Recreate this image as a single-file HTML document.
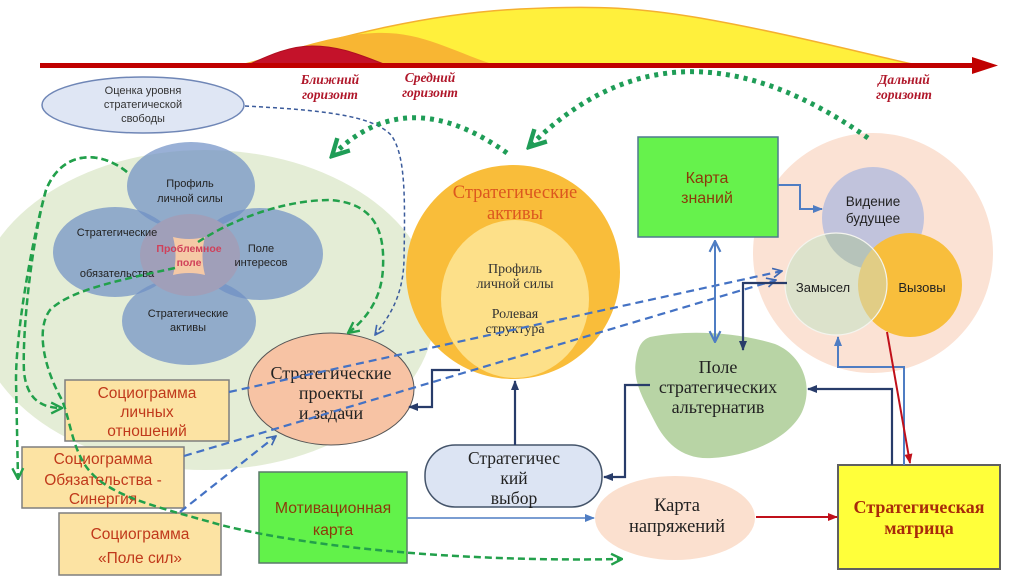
<!DOCTYPE html>
<html>
<head>
<meta charset="utf-8">
<style>
  html,body{margin:0;padding:0;background:#fff;}
  svg{display:block;}
  .sans{font-family:"Liberation Sans","DejaVu Sans",sans-serif;}
  .serif{font-family:"Liberation Serif","DejaVu Serif",serif;}
</style>
</head>
<body>
<svg width="1024" height="579" viewBox="0 0 1024 579" xmlns="http://www.w3.org/2000/svg">
  <defs>
    <marker id="mNavy" viewBox="0 0 10 10" refX="9" refY="5" markerWidth="10" markerHeight="10" orient="auto-start-reverse" markerUnits="userSpaceOnUse">
      <path d="M0,1 L10,5 L0,9 z" fill="#283c6a"/>
    </marker>
    <marker id="mBlue" viewBox="0 0 10 10" refX="9" refY="5" markerWidth="10" markerHeight="10" orient="auto-start-reverse" markerUnits="userSpaceOnUse">
      <path d="M0,1 L10,5 L0,9 z" fill="#4f7dc3"/>
    </marker>
    <marker id="mBlueV" viewBox="0 0 12 12" refX="11" refY="6" markerWidth="13" markerHeight="13" orient="auto-start-reverse" markerUnits="userSpaceOnUse">
      <path d="M1,1 L11,6 L1,11" fill="none" stroke="#4f7dc3" stroke-width="2"/>
    </marker>
    <marker id="mBDash" viewBox="0 0 12 12" refX="11" refY="6" markerWidth="11" markerHeight="11" orient="auto" markerUnits="userSpaceOnUse">
      <path d="M1,1 L11,6 L1,11" fill="none" stroke="#3f68b0" stroke-width="1.8"/>
    </marker>
    <marker id="mRed" viewBox="0 0 10 10" refX="9" refY="5" markerWidth="10" markerHeight="10" orient="auto" markerUnits="userSpaceOnUse">
      <path d="M0,1 L10,5 L0,9 z" fill="#c0101a"/>
    </marker>
    <marker id="mG" viewBox="0 0 12 12" refX="11" refY="6" markerWidth="13" markerHeight="13" orient="auto" markerUnits="userSpaceOnUse">
      <path d="M1,1 L11,6 L1,11" fill="none" stroke="#22a04b" stroke-width="2.2"/>
    </marker>
    <marker id="mGBig" viewBox="0 0 20 20" refX="17" refY="10" markerWidth="22" markerHeight="22" orient="auto" markerUnits="userSpaceOnUse">
      <path d="M2,2 L17,10 L2,18" fill="none" stroke="#1f9d57" stroke-width="4"/>
    </marker>
    <clipPath id="cZam"><circle cx="836" cy="284" r="51"/></clipPath>
  </defs>

  <!-- ===== Top horizon ===== -->
  <path d="M245,64 C300,50 400,15 520,9 C600,5 640,8 700,18 C780,32 850,50 912,64 Z" fill="#fff03c" stroke="#f4b030" stroke-width="1.5"/>
  <path d="M250,64 C290,50 330,35 375,33 C420,31 450,50 492,64 Z" fill="#f8b633"/>
  <path d="M250,64 C270,55 290,46 312,46 C340,46 360,55 384,64 Z" fill="#c4122a" stroke="#b00f20" stroke-width="1"/>
  <line x1="40" y1="65.5" x2="976" y2="65.5" stroke="#c00000" stroke-width="5"/>
  <polygon points="972,57 998,65.5 972,74" fill="#c00000"/>
  <g class="serif" font-style="italic" font-weight="bold" font-size="13.5" fill="#b0172a" text-anchor="middle">
    <text x="330" y="84">Ближний</text>
    <text x="330" y="99">горизонт</text>
    <text x="430" y="82">Средний</text>
    <text x="430" y="97">горизонт</text>
    <text x="904" y="84">Дальний</text>
    <text x="904" y="99">горизонт</text>
  </g>

  <!-- Оценка oval -->
  <ellipse cx="143" cy="105" rx="101" ry="28" fill="#dfe6f4" stroke="#6f86b6" stroke-width="1.5"/>
  <g class="sans" font-size="11" fill="#333" text-anchor="middle">
    <text x="143" y="94">Оценка уровня</text>
    <text x="143" y="108">стратегической</text>
    <text x="143" y="122">свободы</text>
  </g>

  <!-- ===== Left cluster ===== -->
  <ellipse cx="205" cy="310" rx="230" ry="160" fill="#e4edd6"/>
  <g fill="#6d8fc4" fill-opacity="0.7">
    <ellipse cx="191" cy="186" rx="64" ry="44"/>
    <ellipse cx="115" cy="252" rx="62" ry="45"/>
    <ellipse cx="260" cy="254" rx="63" ry="46"/>
    <ellipse cx="189" cy="321" rx="67" ry="44"/>
  </g>
  <ellipse cx="190" cy="255" rx="50" ry="41" fill="#a09fb9"/>
  <path d="M173,237 Q189,241 205,237 Q200,256 205,275 Q189,271 173,275 Q178,256 173,237 Z" fill="#f5c9a6"/>
  <g class="sans" font-size="11" fill="#222" text-anchor="middle">
    <text x="190" y="187">Профиль</text>
    <text x="190" y="202">личной силы</text>
    <text x="117" y="236">Стратегические</text>
    <text x="117" y="277">обязательства</text>
    <text x="261" y="252">Поле</text>
    <text x="261" y="266">интересов</text>
    <text x="188" y="317">Стратегические</text>
    <text x="188" y="331">активы</text>
  </g>
  <g class="sans" font-size="10.5" font-weight="bold" fill="#d0405a" text-anchor="middle">
    <text x="189" y="252">Проблемное</text>
    <text x="189" y="266">поле</text>
  </g>

  <!-- Стратегические проекты -->
  <ellipse cx="331" cy="389" rx="83" ry="56" fill="#f7c3a4" stroke="#555" stroke-width="1"/>
  <g class="serif" font-size="18" fill="#222" text-anchor="middle">
    <text x="331" y="379">Стратегические</text>
    <text x="331" y="399">проекты</text>
    <text x="331" y="419">и задачи</text>
  </g>

  <!-- Социограммы -->
  <g fill="#fce3a3" stroke="#7f7f7f" stroke-width="1.5">
    <rect x="65" y="380" width="164" height="61"/>
    <rect x="22" y="447" width="162" height="61"/>
    <rect x="59" y="513" width="162" height="62"/>
  </g>
  <g class="sans" font-size="15.5" fill="#c0391b" text-anchor="middle">
    <text x="147" y="398">Социограмма</text>
    <text x="147" y="417">личных</text>
    <text x="147" y="436">отношений</text>
    <text x="103" y="464">Социограмма</text>
    <text x="103" y="485">Обязательства -</text>
    <text x="103" y="504">Синергия</text>
    <text x="140" y="539">Социограмма</text>
    <text x="140" y="563">«Поле сил»</text>
  </g>

  <!-- Мотивационная карта -->
  <rect x="259" y="472" width="148" height="91" fill="#62f24a" stroke="#5a7a6a" stroke-width="1.5"/>
  <g class="sans" font-size="15.8" fill="#8b3a0a" text-anchor="middle">
    <text x="333" y="513">Мотивационная</text>
    <text x="333" y="535">карта</text>
  </g>

  <!-- ===== Center: Стратегические активы ===== -->
  <circle cx="513" cy="272" r="107" fill="#f9bd3a"/>
  <ellipse cx="515" cy="299" rx="74" ry="79" fill="#fde089"/>
  <g class="serif" font-size="18.5" fill="#dc571f" text-anchor="middle">
    <text x="515" y="198">Стратегические</text>
    <text x="515" y="219">активы</text>
  </g>
  <g class="serif" font-size="14" fill="#333" text-anchor="middle">
    <text x="515" y="273">Профиль</text>
    <text x="515" y="288">личной силы</text>
    <text x="515" y="318">Ролевая</text>
    <text x="515" y="333">структура</text>
  </g>

  <!-- Стратегический выбор -->
  <rect x="425" y="445" width="177" height="62" rx="30" ry="30" fill="#dce4f3" stroke="#44546a" stroke-width="1.5"/>
  <g class="serif" font-size="17.5" fill="#222" text-anchor="middle">
    <text x="514" y="464">Стратегичес</text>
    <text x="514" y="484">кий</text>
    <text x="514" y="504">выбор</text>
  </g>

  <!-- ===== Right ===== -->
  <circle cx="873" cy="253" r="120" fill="#fbe2d4"/>
  <circle cx="873" cy="218" r="51" fill="#c1c3dc"/>
  <circle cx="910" cy="285" r="52" fill="#f8be3c"/>
  <circle cx="836" cy="284" r="51" fill="#dce2cb"/>
  <circle cx="873" cy="218" r="51" fill="#b6c3ba" clip-path="url(#cZam)"/>
  <circle cx="910" cy="285" r="52" fill="#e1cd85" clip-path="url(#cZam)"/>
  <circle cx="836" cy="284" r="51" fill="none" stroke="#f4f4ee" stroke-width="1.2"/>
  <g class="sans" fill="#222" text-anchor="middle">
    <text x="873" y="206" font-size="13.5">Видение</text>
    <text x="873" y="223" font-size="13.5">будущее</text>
    <text x="823" y="292" font-size="13">Замысел</text>
    <text x="922" y="292" font-size="13">Вызовы</text>
  </g>

  <!-- Карта знаний -->
  <rect x="638" y="137" width="140" height="100" fill="#66f24c" stroke="#4f7a8f" stroke-width="1.5"/>
  <g class="sans" font-size="16" fill="#8b3a0a" text-anchor="middle">
    <text x="707" y="183">Карта</text>
    <text x="707" y="203">знаний</text>
  </g>

  <!-- Поле стратегических альтернатив -->
  <path d="M650,337 C690,329 740,333 775,344 C802,355 814,385 802,412 C790,437 752,456 712,458 C682,460 665,442 655,422 C645,402 632,382 636,360 C638,346 642,340 650,337 Z" fill="#b8d4a5"/>
  <g class="serif" font-size="18" fill="#222" text-anchor="middle">
    <text x="718" y="373">Поле</text>
    <text x="718" y="393">стратегических</text>
    <text x="718" y="413">альтернатив</text>
  </g>

  <!-- Карта напряжений -->
  <ellipse cx="675" cy="518" rx="80" ry="42" fill="#fbe0cf"/>
  <g class="serif" font-size="18.5" fill="#222" text-anchor="middle">
    <text x="677" y="511">Карта</text>
    <text x="677" y="532">напряжений</text>
  </g>

  <!-- Стратегическая матрица -->
  <rect x="838" y="465" width="162" height="104" fill="#ffff3a" stroke="#606060" stroke-width="2"/>
  <g class="serif" font-size="18" font-weight="bold" fill="#a82a0a" text-anchor="middle">
    <text x="919" y="513">Стратегическая</text>
    <text x="919" y="534">матрица</text>
  </g>

  <!-- ===== Connectors ===== -->
  <!-- blue dashed long -->
  <g fill="none" stroke="#4472c4" stroke-width="2.2" stroke-dasharray="8,5">
    <path d="M229,392 L782,271" marker-end="url(#mBDash)"/>
    <path d="M184,456 L776,280" marker-end="url(#mBDash)"/>
    <path d="M180,512 L276,436" marker-end="url(#mBDash)"/>
  </g>
  <!-- Оценка -> проекты dark dashed -->
  <path d="M245,106 C320,110 372,115 391,135 C406,155 405,200 404,260 C403,300 386,320 375,335" fill="none" stroke="#3b5b9b" stroke-width="1.5" stroke-dasharray="4,3" marker-end="url(#mBDash)"/>

  <!-- navy solid elbows -->
  <g fill="none" stroke="#283c6a" stroke-width="2.2">
    <path d="M460,370 H432 V407 H409" marker-end="url(#mNavy)"/>
    <path d="M515,445 V381" marker-end="url(#mNavy)"/>
    <path d="M650,385 H625 V477 H604" marker-end="url(#mNavy)"/>
    <path d="M892,465 V389 H808" marker-end="url(#mNavy)"/>
    <path d="M787,283 H743 V350" marker-end="url(#mNavy)"/>
  </g>
  <!-- blue solid -->
  <g fill="none" stroke="#4f7dc3" stroke-width="2">
    <path d="M778,185 H800 V209 H822" marker-end="url(#mBlue)"/>
    <path d="M715,241 V342" marker-start="url(#mBlueV)" marker-end="url(#mBlueV)"/>
    <path d="M904,465 V367 H838 V337" marker-end="url(#mBlue)"/>
    <path d="M407,518 H594" stroke-width="1.5" marker-end="url(#mBlue)"/>
  </g>
  <!-- red -->
  <g fill="none" stroke="#c0101a" stroke-width="2">
    <path d="M887,332 L910,463" marker-end="url(#mRed)"/>
    <path d="M756,517 H837" marker-end="url(#mRed)"/>
  </g>

  <!-- green dashed -->
  <g fill="none" stroke="#22a04b" stroke-width="2.5" stroke-dasharray="7,4">
    <path d="M127,172 C100,150 62,150 46,190 C32,240 22,330 24,372 C27,400 42,408 62,408" marker-end="url(#mG)"/>
    <path d="M127,172 C100,150 62,150 46,190 C32,240 16,330 16,380 L18,479" marker-end="url(#mG)"/>
    <path d="M175,268 C120,280 70,290 50,310 C35,330 45,370 62,400 C70,420 72,445 85,465 C105,495 150,505 221,525 C320,550 480,562 622,559" marker-end="url(#mG)"/>
    <path d="M198,242 C240,215 290,200 330,200 C370,203 385,225 383,267 C382,300 365,320 348,333" marker-end="url(#mG)"/>
  </g>

  <!-- green dotted arcs -->
  <g fill="none" stroke="#1f9d57" stroke-width="5" stroke-dasharray="4,5">
    <path d="M507,153 Q406,81 332,156" marker-end="url(#mGBig)"/>
    <path d="M868,138 Q674,1 529,147" marker-end="url(#mGBig)"/>
  </g>
</svg>
</body>
</html>
